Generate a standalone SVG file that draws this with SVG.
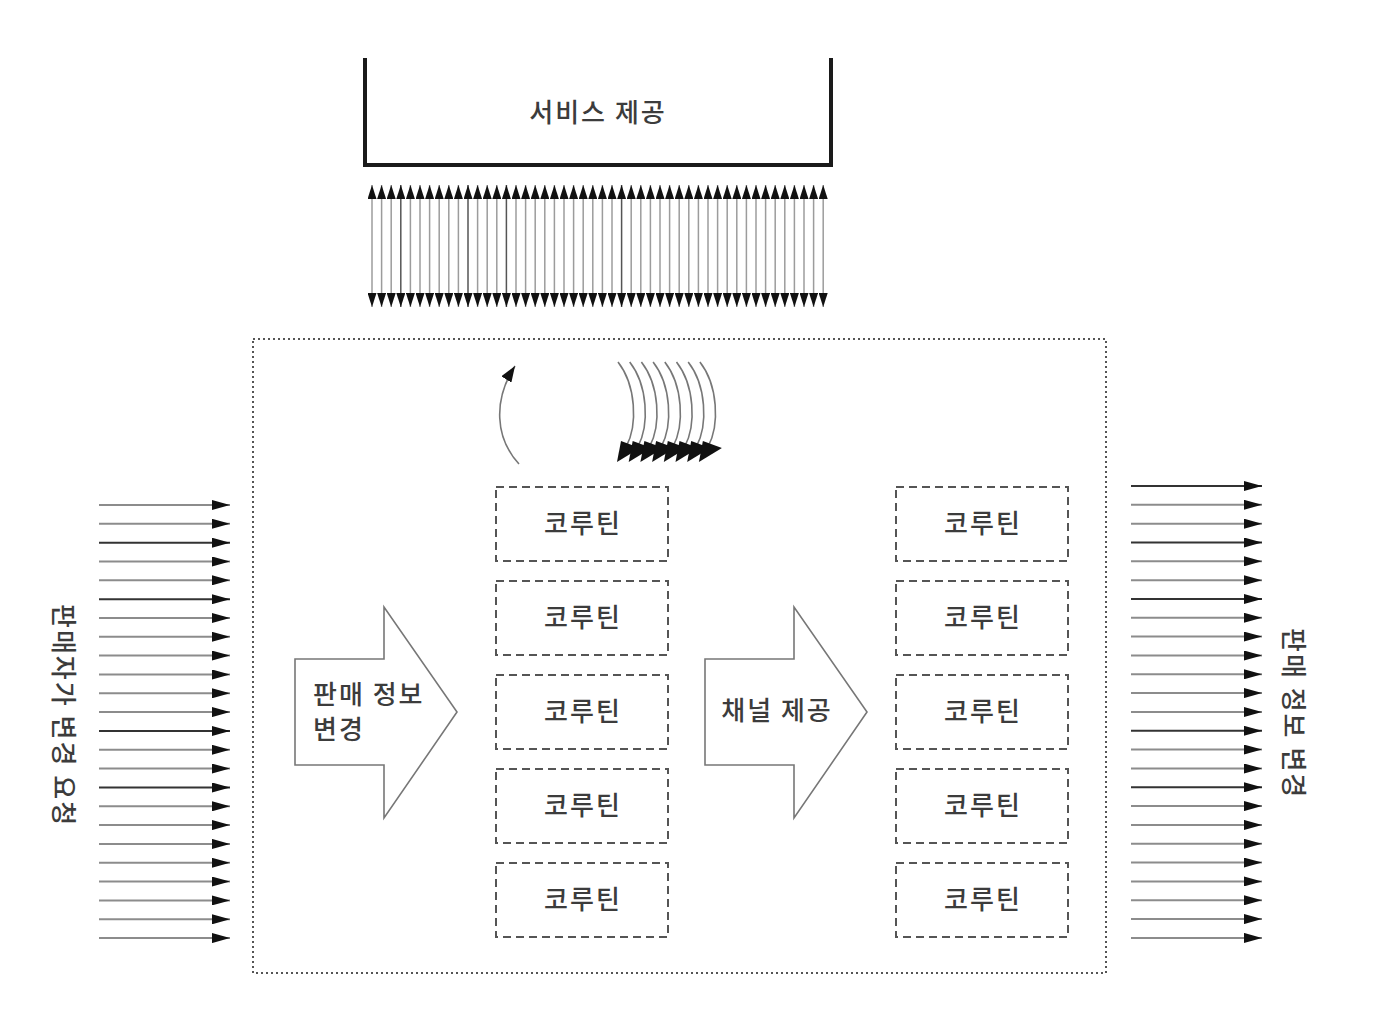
<svg xmlns="http://www.w3.org/2000/svg" width="1380" height="1032" viewBox="0 0 1380 1032">
<style>
text{font-family:"Noto Sans CJK KR","Noto Sans",sans-serif;fill:#3c3c3c;font-size:26px;font-weight:500;letter-spacing:2px}
.v{stroke:#9c9c9c;stroke-width:1.5;marker-start:url(#vh);marker-end:url(#vh)}
.vd{stroke:#555}
.h{stroke:#8c8c8c;stroke-width:2;marker-end:url(#hh)}
.hd{stroke:#333}
.co{fill:#fff;stroke:#555;stroke-width:2;stroke-dasharray:8 5}
.big{fill:#fff;stroke:#777;stroke-width:1.6}
.arc{fill:none;stroke:#777;stroke-width:1.6}
</style>
<defs>
<marker id="vh" viewBox="0 0 14 9" refX="14" refY="4.5" markerWidth="14" markerHeight="9" markerUnits="userSpaceOnUse" orient="auto-start-reverse"><path d="M0,0L14,4.5L0,9z" fill="#111"/></marker>
<marker id="hh" viewBox="0 0 18 10" refX="18" refY="5" markerWidth="18" markerHeight="10" markerUnits="userSpaceOnUse" orient="auto"><path d="M0,0L18,5L0,10z" fill="#111"/></marker>
<marker id="ch" viewBox="0 0 16 12" refX="16" refY="6" markerWidth="16" markerHeight="12" markerUnits="userSpaceOnUse" orient="auto"><path d="M0,0L16,6L0,12z" fill="#111"/></marker>
</defs>
<rect width="1380" height="1032" fill="#fff"/>

<g id="service">
<path d="M365,58V165H831V58" fill="none" stroke="#1a1a1a" stroke-width="4"/>
<text x="598" y="122" text-anchor="middle">서비스 제공</text>
</g>

<g id="boundary">
<rect x="253" y="339" width="853" height="634" fill="none" stroke="#555" stroke-width="2" stroke-dasharray="2 3"/>
</g>

<g id="connectors">
<g id="vertical-arrows">
<line class="v" x1="372" y1="185" x2="372" y2="307"/>
<line class="v" x1="381.6" y1="185" x2="381.6" y2="307"/>
<line class="v" x1="391.2" y1="185" x2="391.2" y2="307"/>
<line class="v vd" x1="400.8" y1="185" x2="400.8" y2="307"/>
<line class="v" x1="410.4" y1="185" x2="410.4" y2="307"/>
<line class="v" x1="420" y1="185" x2="420" y2="307"/>
<line class="v" x1="429.6" y1="185" x2="429.6" y2="307"/>
<line class="v" x1="439.2" y1="185" x2="439.2" y2="307"/>
<line class="v" x1="448.8" y1="185" x2="448.8" y2="307"/>
<line class="v" x1="458.4" y1="185" x2="458.4" y2="307"/>
<line class="v vd" x1="468" y1="185" x2="468" y2="307"/>
<line class="v" x1="477.6" y1="185" x2="477.6" y2="307"/>
<line class="v" x1="487.2" y1="185" x2="487.2" y2="307"/>
<line class="v" x1="496.8" y1="185" x2="496.8" y2="307"/>
<line class="v vd" x1="506.4" y1="185" x2="506.4" y2="307"/>
<line class="v" x1="516" y1="185" x2="516" y2="307"/>
<line class="v" x1="525.6" y1="185" x2="525.6" y2="307"/>
<line class="v" x1="535.2" y1="185" x2="535.2" y2="307"/>
<line class="v" x1="544.8" y1="185" x2="544.8" y2="307"/>
<line class="v" x1="554.4" y1="185" x2="554.4" y2="307"/>
<line class="v" x1="564" y1="185" x2="564" y2="307"/>
<line class="v" x1="573.6" y1="185" x2="573.6" y2="307"/>
<line class="v" x1="583.2" y1="185" x2="583.2" y2="307"/>
<line class="v" x1="592.8" y1="185" x2="592.8" y2="307"/>
<line class="v" x1="602.4" y1="185" x2="602.4" y2="307"/>
<line class="v" x1="612" y1="185" x2="612" y2="307"/>
<line class="v vd" x1="621.6" y1="185" x2="621.6" y2="307"/>
<line class="v" x1="631.2" y1="185" x2="631.2" y2="307"/>
<line class="v" x1="640.8" y1="185" x2="640.8" y2="307"/>
<line class="v" x1="650.4" y1="185" x2="650.4" y2="307"/>
<line class="v" x1="660" y1="185" x2="660" y2="307"/>
<line class="v" x1="669.6" y1="185" x2="669.6" y2="307"/>
<line class="v" x1="679.2" y1="185" x2="679.2" y2="307"/>
<line class="v" x1="688.8" y1="185" x2="688.8" y2="307"/>
<line class="v" x1="698.4" y1="185" x2="698.4" y2="307"/>
<line class="v" x1="708" y1="185" x2="708" y2="307"/>
<line class="v" x1="717.6" y1="185" x2="717.6" y2="307"/>
<line class="v" x1="727.2" y1="185" x2="727.2" y2="307"/>
<line class="v" x1="736.8" y1="185" x2="736.8" y2="307"/>
<line class="v" x1="746.4" y1="185" x2="746.4" y2="307"/>
<line class="v" x1="756" y1="185" x2="756" y2="307"/>
<line class="v" x1="765.6" y1="185" x2="765.6" y2="307"/>
<line class="v" x1="775.2" y1="185" x2="775.2" y2="307"/>
<line class="v" x1="784.8" y1="185" x2="784.8" y2="307"/>
<line class="v" x1="794.4" y1="185" x2="794.4" y2="307"/>
<line class="v" x1="804" y1="185" x2="804" y2="307"/>
<line class="v" x1="813.6" y1="185" x2="813.6" y2="307"/>
<line class="v" x1="823.2" y1="185" x2="823.2" y2="307"/>
</g>

<g id="left-arrows">
<line class="h" x1="99" y1="505" x2="230" y2="505"/>
<line class="h" x1="99" y1="523.8" x2="230" y2="523.8"/>
<line class="h hd" x1="99" y1="542.7" x2="230" y2="542.7"/>
<line class="h" x1="99" y1="561.5" x2="230" y2="561.5"/>
<line class="h" x1="99" y1="580.3" x2="230" y2="580.3"/>
<line class="h hd" x1="99" y1="599.2" x2="230" y2="599.2"/>
<line class="h" x1="99" y1="618" x2="230" y2="618"/>
<line class="h" x1="99" y1="636.8" x2="230" y2="636.8"/>
<line class="h" x1="99" y1="655.6" x2="230" y2="655.6"/>
<line class="h" x1="99" y1="674.5" x2="230" y2="674.5"/>
<line class="h" x1="99" y1="693.3" x2="230" y2="693.3"/>
<line class="h" x1="99" y1="712.1" x2="230" y2="712.1"/>
<line class="h hd" x1="99" y1="731" x2="230" y2="731"/>
<line class="h" x1="99" y1="749.8" x2="230" y2="749.8"/>
<line class="h" x1="99" y1="768.6" x2="230" y2="768.6"/>
<line class="h hd" x1="99" y1="787.5" x2="230" y2="787.5"/>
<line class="h" x1="99" y1="806.3" x2="230" y2="806.3"/>
<line class="h" x1="99" y1="825.1" x2="230" y2="825.1"/>
<line class="h" x1="99" y1="843.9" x2="230" y2="843.9"/>
<line class="h" x1="99" y1="862.8" x2="230" y2="862.8"/>
<line class="h" x1="99" y1="881.6" x2="230" y2="881.6"/>
<line class="h" x1="99" y1="900.4" x2="230" y2="900.4"/>
<line class="h" x1="99" y1="919.3" x2="230" y2="919.3"/>
<line class="h" x1="99" y1="938.1" x2="230" y2="938.1"/>
</g>

<g id="right-arrows">
<line class="h hd" x1="1131" y1="486" x2="1262" y2="486"/>
<line class="h" x1="1131" y1="504.8" x2="1262" y2="504.8"/>
<line class="h" x1="1131" y1="523.7" x2="1262" y2="523.7"/>
<line class="h hd" x1="1131" y1="542.5" x2="1262" y2="542.5"/>
<line class="h" x1="1131" y1="561.3" x2="1262" y2="561.3"/>
<line class="h" x1="1131" y1="580.2" x2="1262" y2="580.2"/>
<line class="h hd" x1="1131" y1="599" x2="1262" y2="599"/>
<line class="h" x1="1131" y1="617.8" x2="1262" y2="617.8"/>
<line class="h" x1="1131" y1="636.6" x2="1262" y2="636.6"/>
<line class="h" x1="1131" y1="655.5" x2="1262" y2="655.5"/>
<line class="h" x1="1131" y1="674.3" x2="1262" y2="674.3"/>
<line class="h" x1="1131" y1="693.1" x2="1262" y2="693.1"/>
<line class="h" x1="1131" y1="712" x2="1262" y2="712"/>
<line class="h hd" x1="1131" y1="730.8" x2="1262" y2="730.8"/>
<line class="h" x1="1131" y1="749.6" x2="1262" y2="749.6"/>
<line class="h" x1="1131" y1="768.5" x2="1262" y2="768.5"/>
<line class="h hd" x1="1131" y1="787.3" x2="1262" y2="787.3"/>
<line class="h" x1="1131" y1="806.1" x2="1262" y2="806.1"/>
<line class="h" x1="1131" y1="824.9" x2="1262" y2="824.9"/>
<line class="h" x1="1131" y1="843.8" x2="1262" y2="843.8"/>
<line class="h" x1="1131" y1="862.6" x2="1262" y2="862.6"/>
<line class="h" x1="1131" y1="881.4" x2="1262" y2="881.4"/>
<line class="h" x1="1131" y1="900.3" x2="1262" y2="900.3"/>
<line class="h" x1="1131" y1="919.1" x2="1262" y2="919.1"/>
<line class="h" x1="1131" y1="937.9" x2="1262" y2="937.9"/>
</g>

<g id="resume-arc">
<path class="arc" d="M519,464 C495,438 493,400 515,366" marker-end="url(#ch)"/>
</g>
<g id="suspend-arcs">
<path class="arc" d="M618,362 C636,385 638,425 626,447"/>
<path class="arc" d="M629.7,362 C647.7,385 649.7,425 637.7,447"/>
<path class="arc" d="M641.4,362 C659.4,385 661.4,425 649.4,447"/>
<path class="arc" d="M653.1,362 C671.1,385 673.1,425 661.1,447"/>
<path class="arc" d="M664.8,362 C682.8,385 684.8,425 672.8,447"/>
<path class="arc" d="M676.5,362 C694.5,385 696.5,425 684.5,447"/>
<path class="arc" d="M688.2,362 C706.2,385 708.2,425 696.2,447"/>
<path class="arc" d="M699.9,362 C717.9,385 719.9,425 707.9,447"/>
<g fill="#111">
<polygon points="621,441 640,448 617,462"/>
<polygon points="632.7,441 651.7,448 628.7,462"/>
<polygon points="644.4,441 663.4,448 640.4,462"/>
<polygon points="656.1,441 675.1,448 652.1,462"/>
<polygon points="667.8,441 686.8,448 663.8,462"/>
<polygon points="679.5,441 698.5,448 675.5,462"/>
<polygon points="691.2,441 710.2,448 687.2,462"/>
<polygon points="702.9,441 721.9,448 698.9,462"/>
</g>
</g>
</g>

<g id="left-label">
<text transform="translate(54,604) rotate(90)">판매자가 변경 요청</text>
</g>
<g id="right-label">
<text transform="translate(1284,628) rotate(90)">판매 정보 변경</text>
</g>

<g id="change-arrow">
<path class="big" d="M295,659H384V607L457,712L384,818V765H295Z"/>
<text x="313" y="704">판매 정보</text>
<text x="313" y="739">변경</text>
</g>
<g id="channel-arrow">
<path class="big" d="M705,659H794V607L867,712L794,818V765H705Z"/>
<text x="777" y="720" text-anchor="middle">채널 제공</text>
</g>

<g id="co-l1"><rect class="co" x="496" y="487" width="172" height="74"/><text x="583" y="533" text-anchor="middle">코루틴</text></g>
<g id="co-l2"><rect class="co" x="496" y="581" width="172" height="74"/><text x="583" y="627" text-anchor="middle">코루틴</text></g>
<g id="co-l3"><rect class="co" x="496" y="675" width="172" height="74"/><text x="583" y="721" text-anchor="middle">코루틴</text></g>
<g id="co-l4"><rect class="co" x="496" y="769" width="172" height="74"/><text x="583" y="815" text-anchor="middle">코루틴</text></g>
<g id="co-l5"><rect class="co" x="496" y="863" width="172" height="74"/><text x="583" y="909" text-anchor="middle">코루틴</text></g>
<g id="co-r1"><rect class="co" x="896" y="487" width="172" height="74"/><text x="983" y="533" text-anchor="middle">코루틴</text></g>
<g id="co-r2"><rect class="co" x="896" y="581" width="172" height="74"/><text x="983" y="627" text-anchor="middle">코루틴</text></g>
<g id="co-r3"><rect class="co" x="896" y="675" width="172" height="74"/><text x="983" y="721" text-anchor="middle">코루틴</text></g>
<g id="co-r4"><rect class="co" x="896" y="769" width="172" height="74"/><text x="983" y="815" text-anchor="middle">코루틴</text></g>
<g id="co-r5"><rect class="co" x="896" y="863" width="172" height="74"/><text x="983" y="909" text-anchor="middle">코루틴</text></g>
</svg>
